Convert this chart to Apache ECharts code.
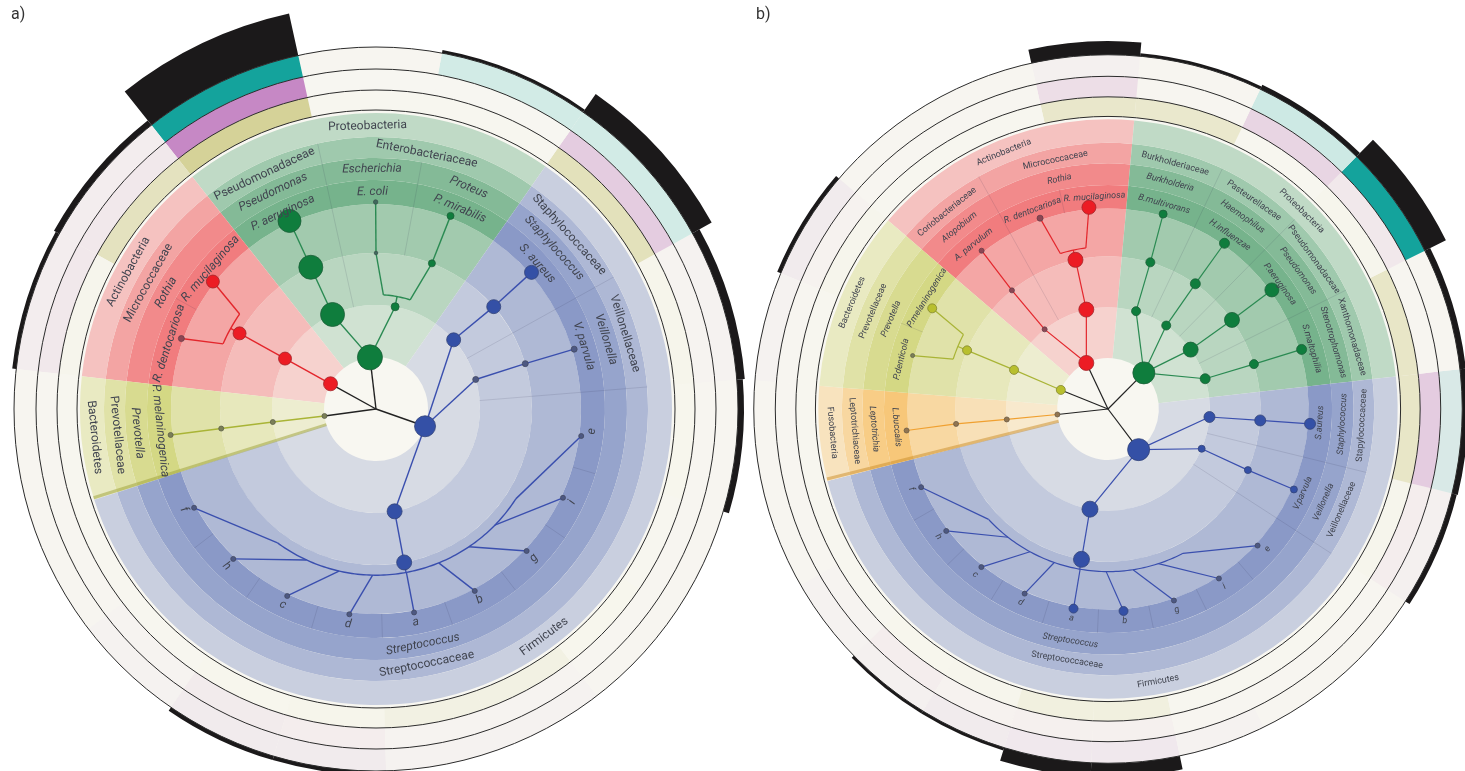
<!DOCTYPE html>
<html><head><meta charset="utf-8"><title>Cladograms</title>
<script src="https://cdn.jsdelivr.net/npm/echarts@6/dist/echarts.min.js"></script>
<style>html,body{margin:0;padding:0;background:#fff;}#chart{width:1465px;height:771px;}</style>
</head><body><div id="chart"></div>
<script>
// ================= Panel a data =================
const nodeNameA = ['root','Proteobacteria','Pseudomonadaceae','Pseudomonas','P. aeruginosa','Enterobacteriaceae','Escherichia','E. coli','Proteus','P. mirabilis','Actinobacteria','Micrococcaceae','Rothia','R. mucilaginosa','R. dentocariosa','Bacteroidetes','Prevotellaceae','Prevotella','P. melaninogenica','Firmicutes','Staphylococcaceae','Staphylococcus','S. aureus','Veillonellaceae','Veillonella','V. parvula','Streptococcaceae','Streptococcus','f','h','c','d','a','b','g','i','e'];
const nodeParentA = [-1,0,1,2,3,1,5,6,5,8,0,10,11,12,12,0,15,16,17,0,19,20,21,19,23,24,19,26,27,27,27,27,27,27,27,27,27];
const nodeLevelA = [0,1,2,3,4,2,3,4,3,4,1,2,3,4,4,1,2,3,4,1,2,3,4,2,3,4,2,3,4,4,4,4,4,4,4,4,4];
const nodeAngleA = [200,456.7,474.7,474.7,474.7,439.4,450,450.1,429,428.9,511,511,511,502,520.1,547.7,547.2,547.2,547.2,340.6,401.7,401,401.3,376.5,376.9,376.8,280.3,280.4,208.5,226.4,244.6,262.6,280.6,298.5,316.7,334.6,352.5];
const nodeSizeA = [0,12.5,12,12,11.5,4,1.8,2.2,3.5,3.5,7,6.5,6.5,6.5,3,2.5,2.5,2.5,2.5,10.5,7,7,7,3,3,3,7.5,7.5,2.5,2.5,2.5,2.5,2.5,2.5,2.5,2.5,2.5];
const leafOrderA = ['f','h','c','d','a','b','g','i','e','V. parvula','S. aureus','P. mirabilis','E. coli','P. aeruginosa','R. mucilaginosa','R. dentocariosa','P. melaninogenica'];
const ringOuterA = [0.01,0.02,0.05,0.05,0.02,0.02,0.01,0.01,0.01,0.02,0.2,0.2,0.01,1.0,0.04,0.04,0.01];
const ringMidA   = [0.02,0.03,0.10,0.08,0.03,0.03,0.02,0.02,0.02,0.03,0.35,0.01,0.01,0.9,0.12,0.12,0.02];
const ringInnerA = [0.02,0.02,0.03,0.05,0.12,0.12,0.03,0.02,0.03,0.05,0.45,0.02,0.02,0.75,0.42,0.04,0.02];
const barA       = [0,0,4,4,0,0,0,0,6,8,22,3,0,43,6,4,0];

// ================= Panel b data =================
const nodeNameB = ['root','Actinobacteria','Micrococcaceae','Rothia','R. mucilaginosa','R. dentocariosa','Coriobacteriaceae','Atopobium','A. parvulum','Proteobacteria','Burkholderiaceae','Burkholderia','B.multivorans','Pasteurellaceae','Haemophilus','H.influenzae','Pseudomonadaceae','Pseudomonas','P.aeruginosa','Xanthomonadaceae','Stenotrophomonas','S.maltophilia','Firmicutes','Stapylococcaceae','Staphylococcus','S.aureus','Veillonellaceae','Veillonella','V.parvula','Streptococcaceae','Streptococcus','f','h','c','d','a','b','g','i','e','Fusobacteria','Leptotrichiaceae','Leptotrichia','L.buccalis','Bacteroidetes','Prevotellaceae','Prevotella','P.melaninogenica','P.denticola'];
const nodeParentB = [-1,0,1,2,3,3,1,6,7,0,9,10,11,9,13,14,9,16,17,9,19,20,0,22,23,24,22,26,27,22,29,30,30,30,30,30,30,30,30,30,0,40,41,42,0,44,45,46,46];
const nodeLevelB = [0,1,2,3,4,4,2,3,4,1,2,3,4,2,3,4,2,3,4,2,3,4,1,2,3,4,2,3,4,2,3,4,4,4,4,4,4,4,4,4,1,2,3,4,1,2,3,4,4];
const nodeAngleB = [200,475.2,462.3,462.3,455.4,469.6,488.5,489,488.6,405.2,434,433.9,434.2,415.1,415.1,414.9,395.7,395.7,396,377.3,377.1,377.1,307,355.5,355.7,355.8,337,336.4,336.6,259.8,260,202.7,217,231.3,245.7,260.2,274.4,289,303.2,317.6,546.2,545.9,545.6,546.1,518,517.4,517.4,510.2,524.7];
const nodeSizeB = [0,7.5,7.5,7.5,7,3,2.5,2.5,2.5,11,4.5,4.5,4,4.5,5,5,7.5,7.5,7,5,4.5,5,11,5.5,5.5,5.5,3.5,3.5,3.5,8,8,2.5,2.5,2.5,2.5,4.5,4.5,2.5,2.5,2.5,2.5,2.5,2.5,2.5,4.5,4.5,4.5,4.5,2];
const leafOrderB = ['f','h','c','d','a','b','g','i','e','V.parvula','S.aureus','S.maltophilia','P.aeruginosa','H.influenzae','B.multivorans','R. mucilaginosa','R. dentocariosa','A. parvulum','P.melaninogenica','P.denticola','L.buccalis'];
const ringOuterB = [0.01,0.02,0.03,0.05,0.06,0.06,0.02,0.01,0.01,0.03,0.17,0.01,1.0,0.22,0.01,0.03,0.01,0.01,0.05,0.02,0.01];
const ringMidB   = [0.02,0.03,0.08,0.04,0.06,0.06,0.02,0.02,0.02,0.08,0.35,0.02,0.12,0.28,0.02,0.20,0.02,0.02,0.04,0.02,0.02];
const ringInnerB = [0.02,0.02,0.03,0.04,0.15,0.15,0.02,0.02,0.02,0.04,0.35,0.35,0.04,0.02,0.30,0.32,0.02,0.02,0.04,0.02,0.02];
const barB       = [0,0,3,3,14,14,0,0,0,5,6,6,24,5,3,14,0,0,4,0,0];

// ================= layout & style =================
const LR = [0, 52, 104, 156, 207];
const BANDS = [52, 104, 156, 205, 229, 251, 272, 296];
const BAND_T = [0.17, 0.27, 0.37, 0.56, 0.5, 0.38, 0.24];
const RINGS = [299, 319, 340, 362];
const LABEL_R = [0, 283, 260, 240, 217];
const CREAM = '#f8f7f1';
const PHY_COL = {Proteobacteria:'#0f7d3d', Actinobacteria:'#ec1c24', Firmicutes:'#3450a6', Bacteroidetes:'#b8bf2e', Fusobacteria:'#f7a21b'};
const LINE_COL = {Proteobacteria:'#2a8a52', Actinobacteria:'#e3262c', Firmicutes:'#3a4fae', Bacteroidetes:'#a9b436', Fusobacteria:'#f0a030'};
// colour ramps for the three heat rings (inner, mid, outer)
const RING_RAMP = [
  [[0,CREAM],[1,'#c9c67a']],
  [[0,CREAM],[1,'#c07cc0']],
  [[0,CREAM],[0.08,'#ede3eb'],[0.2,'#d2ebe6'],[1,'#14a39c']]
];

function hex2rgb(h){h=h.replace('#','');return [0,2,4].map(i=>parseInt(h.substr(i,2),16));}
function mix(a,b,t){const A=hex2rgb(a),B=hex2rgb(b);return '#'+A.map((v,i)=>Math.round(v+(B[i]-v)*t).toString(16).padStart(2,'0')).join('');}
function ramp(stops,v){
  for(let i=1;i<stops.length;i++){ if(v<=stops[i][0]){const t=(v-stops[i-1][0])/(stops[i][0]-stops[i-1][0]); return mix(stops[i-1][1],stops[i][1],t);} }
  return stops[stops.length-1][1];
}

function buildPanel(T){
  const n = T.names.length;
  const kids = T.names.map(()=>[]);
  T.parents.forEach((p,i)=>{ if(p>=0) kids[p].push(i); });
  const anc = (i,L)=>{ while(T.levels[i]>L) i=T.parents[i]; return i; };
  const leaves = T.leafOrder.map(nm=>T.names.indexOf(nm));
  const m = leaves.length;
  const ang = leaves.map(i=>T.angles[i]);
  const sec = leaves.map((li,j)=>[
    j===0 ? T.start : (ang[j-1]+ang[j])/2,
    j===m-1 ? T.start+360 : (ang[j]+ang[j+1])/2 ]);
  const span = {};
  leaves.forEach((li,j)=>{ let k=li; while(k>0){ if(!span[k]) span[k]=[Infinity,-Infinity];
    span[k][0]=Math.min(span[k][0],sec[j][0]); span[k][1]=Math.max(span[k][1],sec[j][1]); k=T.parents[k]; } });
  const fills=[], lines=[], nodes=[], texts=[];
  fills.push({k:'sector', r0:0, r1:RINGS[3], a0:T.start, a1:T.start+360, fill:CREAM});
  kids[0].forEach(p=>{
    const c = PHY_COL[T.names[p]];
    for(let b=0;b<7;b++) fills.push({k:'sector', r0:BANDS[b], r1:BANDS[b+1], a0:span[p][0], a1:span[p][1], fill:mix(CREAM,c,BAND_T[b])});
  });
  leaves.forEach((li,j)=>{
    const vals=[T.ringInner[j], T.ringMid[j], T.ringOuter[j]];
    for(let r=0;r<3;r++) fills.push({k:'sector', r0:RINGS[r], r1:RINGS[r+1], a0:sec[j][0], a1:sec[j][1], fill:ramp(RING_RAMP[r],vals[r])});
    if(T.bar[j]>0) fills.push({k:'sector', r0:RINGS[3], r1:RINGS[3]+T.bar[j], a0:sec[j][0], a1:sec[j][1], fill:'#1b191a'});
  });
  // shadow strip on the sector edge that meets the Firmicutes clade
  const lastPhy = T.names[anc(leaves[m-1],1)];
  lines.push({k:'poly', pts:[[BANDS[0],T.start+359.6],[BANDS[7],T.start+359.6]], stroke:mix(PHY_COL[lastPhy],'#444444',0.25), lw:3, op:0.5});
  // separators
  for(let j=0;j<m-1;j++){
    const a=leaves[j], b=leaves[j+1];
    if(anc(a,1)!==anc(b,1)) continue;
    let r0,r1;
    if(anc(a,2)!==anc(b,2)){r0=LR[2]; r1=BANDS[6];}
    else if(anc(a,3)!==anc(b,3)){r0=LR[3]; r1=BANDS[5];}
    else {r0=BANDS[3]; r1=BANDS[4];}
    lines.push({k:'poly', pts:[[r0,sec[j][1]],[r1,sec[j][1]]], stroke:'rgba(40,40,70,0.16)', lw:0.8});
  }
  RINGS.forEach(r=>lines.push({k:'ring', r, stroke:'#2b2b2b', lw:1}));
  // tree edges
  for(let i=1;i<n;i++){
    const p=T.parents[i];
    if(p===0){ lines.push({k:'poly', pts:[[0,T.angles[i]],[LR[1],T.angles[i]]], stroke:'#222', lw:T.lw}); continue; }
    const col=LINE_COL[T.names[anc(i,1)]];
    const pr=LR[T.levels[p]], cr=LR[T.levels[i]];
    if(T.levels[p]>=2 && kids[p].length>=2){
      const rb=pr+0.2*(cr-pr), at=T.angles[p]+0.65*(T.angles[i]-T.angles[p]);
      lines.push({k:'poly', pts:[[rb,at],[cr,T.angles[i]]], stroke:col, lw:T.lw});
    } else {
      lines.push({k:'poly', pts:[[pr,T.angles[p]],[cr,T.angles[i]]], stroke:col, lw:T.lw});
    }
  }
  for(let p=1;p<n;p++){
    if(!(T.levels[p]>=2 && kids[p].length>=2)) continue;
    const col=LINE_COL[T.names[anc(p,1)]];
    const pr=LR[T.levels[p]], cr=LR[T.levels[p]+1], rb=pr+0.2*(cr-pr);
    const ats=kids[p].map(c=>T.angles[p]+0.65*(T.angles[c]-T.angles[p])).concat([T.angles[p]]);
    const lo=Math.min(...ats), hi=Math.max(...ats), pts=[];
    for(let a=lo;a<hi;a+=1) pts.push([rb,a]); pts.push([rb,hi]);
    lines.push({k:'poly', pts, stroke:col, lw:T.lw});
    lines.push({k:'poly', pts:[[pr,T.angles[p]],[rb,T.angles[p]]], stroke:col, lw:T.lw});
  }
  // nodes
  for(let i=1;i<n;i++){
    const c=PHY_COL[T.names[anc(i,1)]], s=T.sizes[i];
    const big=s>=3.5;
    const fill= big ? c : mix(c,'#5a5d6e',0.65);
    nodes.push({k:'node', r:LR[T.levels[i]], a:T.angles[i], size:s, fill, stroke:mix(fill,'#333333',0.4)});
  }
  // labels (centred on each clade's angular span)
  for(let i=1;i<n;i++){
    const L=T.levels[i];
    const a=(span[i][0]+span[i][1])/2;
    texts.push({k:'text', r:LABEL_R[L], a, text:T.names[i], font:(L>=3?'italic ':'')+T.fs+'px Roboto, "Open Sans", sans-serif'});
  }
  return {fills, lines, nodes, texts};
}

function render(prims){
  return function(params, api){
    const q=prims[api.value(2)];
    const cx=params.coordSys.cx, cy=params.coordSys.cy;
    const dist=p=>Math.hypot(p[0]-cx,p[1]-cy);
    if(q.k==='sector'){
      const pO=api.coord([q.r1,q.a1]), pI=api.coord([q.r0,q.a1]), pE=api.coord([q.r1,q.a0]);
      const sA=Math.atan2(pO[1]-cy,pO[0]-cx);
      let eA=Math.atan2(pE[1]-cy,pE[0]-cx);
      while(eA<=sA+1e-9) eA+=2*Math.PI;
      return {type:'sector', shape:{cx,cy,r0:dist(pI),r:dist(pO),startAngle:sA,endAngle:eA,clockwise:true}, style:{fill:q.fill}};
    }
    if(q.k==='ring'){
      const p=api.coord([q.r,q.a||0]);
      return {type:'circle', shape:{cx,cy,r:dist(p)}, style:{fill:null, stroke:q.stroke, lineWidth:q.lw}};
    }
    if(q.k==='poly'){
      return {type:'polyline', shape:{points:q.pts.map(t=>api.coord([t[0],t[1]]))}, style:{fill:null, stroke:q.stroke, lineWidth:q.lw, opacity:q.op==null?1:q.op}};
    }
    if(q.k==='node'){
      const p=api.coord([q.r,q.a]);
      return {type:'circle', shape:{cx:p[0],cy:p[1],r:q.size}, style:{fill:q.fill, stroke:q.stroke, lineWidth:0.8}};
    }
    if(q.k==='text'){
      const p=api.coord([q.r,q.a]);
      const th=-Math.atan2(p[1]-cy,p[0]-cx);
      const rot = (p[1]<cy) ? th-Math.PI/2 : th+Math.PI/2;
      return {type:'text', x:p[0], y:p[1], rotation:rot, style:{text:q.text, x:0, y:0, align:'center', verticalAlign:'middle', font:q.font, fill:'#40444f'}};
    }
    return null;
  };
}

const panelA = buildPanel({names:nodeNameA, parents:nodeParentA, levels:nodeLevelA, angles:nodeAngleA, sizes:nodeSizeA,
  leafOrder:leafOrderA, ringOuter:ringOuterA, ringMid:ringMidA, ringInner:ringInnerA, bar:barA, start:197.85, fs:12, lw:1.4});
const panelB = buildPanel({names:nodeNameB, parents:nodeParentB, levels:nodeLevelB, angles:nodeAngleB, sizes:nodeSizeB,
  leafOrder:leafOrderB, ringOuter:ringOuterB, ringMid:ringMidB, ringInner:ringInnerB, bar:barB, start:194.4, fs:9, lw:1.2});

function seriesFor(panel, idx, start){
  const out=[];
  ['fills','lines','nodes','texts'].forEach((key,z)=>{
    const prims=panel[key];
    out.push({type:'custom', coordinateSystem:'polar', polarIndex:idx, z:z+1, silent:true,
      renderItem:render(prims), data:prims.map((_,i)=>[10,start+1,i])});
  });
  return out;
}

const chart = echarts.init(document.getElementById('chart'), null, {renderer:'canvas'});
chart.setOption({
  animation:false,
  backgroundColor:'#ffffff',
  title:[
    {text:'a)', left:6, top:2, textStyle:{fontSize:16, fontWeight:'normal', color:'#333', fontFamily:'Roboto'}},
    {text:'b)', left:751, top:2, textStyle:{fontSize:16, fontWeight:'normal', color:'#333', fontFamily:'Roboto'}}
  ],
  polar:[{center:[376,409], radius:420},{center:[1108,409], radius:411}],
  angleAxis:[
    {polarIndex:0, type:'value', min:197.85, max:557.85, startAngle:197.85, clockwise:false, show:false},
    {polarIndex:1, type:'value', min:194.4, max:554.4, startAngle:194.4, clockwise:false, show:false}
  ],
  radiusAxis:[
    {polarIndex:0, type:'value', min:0, max:420, show:false},
    {polarIndex:1, type:'value', min:0, max:420, show:false}
  ],
  series: seriesFor(panelA,0,197.85).concat(seriesFor(panelB,1,194.4))
});
</script></body></html>
